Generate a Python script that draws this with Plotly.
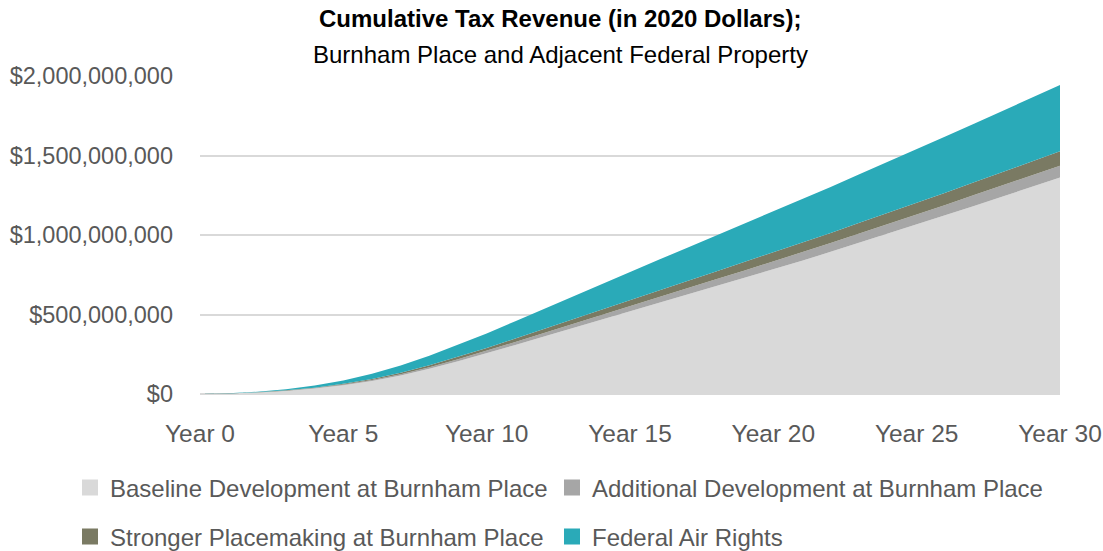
import plotly.graph_objects as go

years = list(range(0, 31))
year_ticks = [0, 5, 10, 15, 20, 25, 30]
year_labels = ["Year 0", "Year 5", "Year 10", "Year 15", "Year 20", "Year 25", "Year 30"]

# cumulative tax revenue, millions of 2020 dollars
baseline = [0, 3, 9, 19, 34, 55, 82, 117, 159, 206, 256, 308, 361, 414, 466, 518,
            571, 624, 677, 730, 783, 838, 894, 951, 1008, 1066, 1124, 1183, 1242, 1301, 1361]
additional = [0, 0, 1, 2, 3, 4, 6, 8, 10, 12, 15, 19, 23, 27, 31, 35,
              38, 41, 44, 47, 50, 53, 55, 58, 60, 63, 65, 68, 70, 73, 75]
stronger = [0, 0, 1, 2, 3, 5, 7, 9, 12, 15, 18, 22, 26, 30, 34, 38,
            42, 46, 50, 54, 58, 61, 64, 68, 71, 74, 77, 80, 84, 87, 90]
federal = [0, 1, 3, 7, 13, 21, 32, 45, 60, 76, 92, 109, 126, 143, 160, 177,
           193, 209, 225, 241, 257, 273, 289, 305, 321, 337, 353, 369, 385, 401, 417]

names = ["Baseline Development at Burnham Place", "Additional Development at Burnham Place",
         "Stronger Placemaking at Burnham Place", "Federal Air Rights"]
colors = ["#d9d9d9", "#a6a6a6", "#7a7a63", "#2aaab8"]
series = [baseline, additional, stronger, federal]
legend_ids = ["legend", "legend2", "legend3", "legend4"]

FONT = "Liberation Sans, Arial, sans-serif"

fig = go.Figure()
for name, col, vals in zip(names, colors, series):
    fig.add_trace(go.Scatter(
        x=years, y=[v * 1e6 for v in vals], name=name, stackgroup="one",
        mode="lines", line=dict(width=0, color=col), fillcolor=col,
        showlegend=False, hoverinfo="skip"))
for name, col, lg in zip(names, colors, legend_ids):
    fig.add_trace(go.Scatter(
        x=[None], y=[None], name=name, mode="markers", legend=lg,
        marker=dict(symbol="square", size=16, color=col), showlegend=True))

PLOT_W = 1060 - 200
PLOT_H = 394 - 76
leg_common = dict(orientation="h", xref="paper", yref="paper",
                  xanchor="left", yanchor="middle",
                  font=dict(family=FONT, size=24, color="#595959"),
                  itemsizing="trace", bgcolor="rgba(0,0,0,0)")
col_x = [(70 - 200) / PLOT_W, (552 - 200) / PLOT_W]
row_y = [(394 - 488) / PLOT_H, (394 - 537) / PLOT_H]

fig.update_layout(
    width=1103, height=551,
    margin=dict(l=200, r=43, t=76, b=157, autoexpand=False),
    paper_bgcolor="white", plot_bgcolor="white",
    font=dict(family=FONT, color="#595959", size=24),
    showlegend=True,
    legend=dict(leg_common, x=col_x[0], y=row_y[0]),
    legend2=dict(leg_common, x=col_x[1], y=row_y[0]),
    legend3=dict(leg_common, x=col_x[0], y=row_y[1]),
    legend4=dict(leg_common, x=col_x[1], y=row_y[1]),
    annotations=[
        dict(text="<b>Cumulative Tax Revenue (in 2020 Dollars);</b>", xref="paper", yref="paper",
             x=(560 - 200) / PLOT_W, y=1, yshift=73, showarrow=False,
             font=dict(family=FONT, size=24, color="black")),
        dict(text="Burnham Place and Adjacent Federal Property", xref="paper", yref="paper",
             x=(560 - 200) / PLOT_W, y=1, yshift=37, showarrow=False,
             font=dict(family=FONT, size=24, color="black")),
    ],
)
fig.update_xaxes(range=[0, 30], tickvals=year_ticks, ticktext=year_labels,
                 showgrid=False, zeroline=False, showline=False, ticks="",
                 ticklabeloverflow="allow", automargin=False,
                 ticklabelstandoff=22, tickfont=dict(size=24.5, color="#595959"))
fig.update_yaxes(range=[0, 2e9], tickvals=[0, 5e8, 1e9, 1.5e9, 2e9],
                 ticktext=["$0", "$500,000,000", "$1,000,000,000", "$1,500,000,000", "$2,000,000,000"],
                 showgrid=True, gridcolor="#d9d9d9", gridwidth=1.5, zeroline=True,
                 zerolinecolor="#d9d9d9", zerolinewidth=1.5, ticks="", automargin=False,
                 ticklabelstandoff=26, tickfont=dict(size=23.5, color="#595959"))

fig.write_html("out.html")
